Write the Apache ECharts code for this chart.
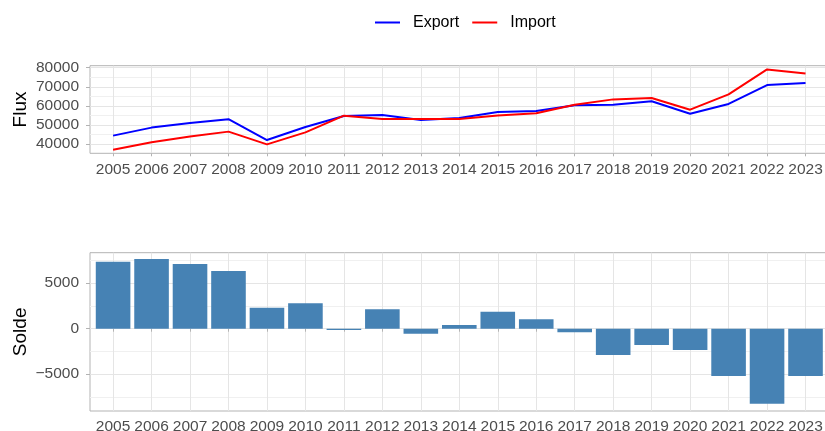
<!DOCTYPE html>
<html><head><meta charset="utf-8">
<script src="https://cdn.jsdelivr.net/npm/echarts@6/dist/echarts.min.js"></script>
<style>html,body{margin:0;padding:0;background:#fff}#c{width:825px;height:431px}</style>
</head><body><div id="c"></div>
<script>
const years = [2005,2006,2007,2008,2009,2010,2011,2012,2013,2014,2015,2016,2017,2018,2019,2020,2021,2022,2023];
const exportVals = [44400,48600,51000,53000,42100,48900,54700,55200,52600,53600,56800,57300,60300,60600,62400,55900,61000,70900,72000];
const importVals = [37000,40900,44000,46500,39800,46100,54850,53100,53100,53100,54900,56100,60600,63400,64100,58000,66000,79100,77000];
const soldeVals = [7350,7650,7100,6350,2300,2800,-150,2150,-550,400,1850,1050,-400,-2900,-1800,-2350,-5200,-8250,-5200];
const fluxTicks = [40000,50000,60000,70000,80000];
const fluxMinor = [45000,55000,65000,75000];
const soldeTicks = [-5000,0,5000];
const soldeMinor = [-7500,-2500,2500,7500];

const FONT = "'Liberation Sans', Arial, sans-serif";
const tickLabelStyle = {color:'#4d4d4d', fontSize:15.5, fontFamily:FONT};
const pair = (vals) => years.map((y,i)=>[y, vals[i]]);

function xAx(gi){
  return {type:'value', gridIndex:gi, min:2004.4, max:2023.6,
    axisLine:{show:false},
    axisTick:{show:true, customValues:years, length:3, lineStyle:{color:'#b3b3b3'}},
    axisLabel:Object.assign({customValues:years, margin:8, formatter:v=>String(v), hideOverlap:false}, tickLabelStyle),
    splitLine:{show:true, lineStyle:{color:'#e5e5e5', width:1}}};
}
function yMajor(gi,min,max,ticks,name){
  return {type:'value', gridIndex:gi, min:min, max:max, position:'left',
    name:name, nameLocation:'middle', nameGap:60, nameMoveOverlap:false,
    nameTextStyle:{color:'#000', fontSize:19, fontFamily:FONT},
    axisLine:{show:false},
    axisTick:{show:true, customValues:ticks, length:4, lineStyle:{color:'#b3b3b3'}},
    axisLabel:Object.assign({customValues:ticks, margin:11, formatter:v=>String(v).replace('-', '\u2212')}, tickLabelStyle),
    splitLine:{show:true, lineStyle:{color:'#e5e5e5', width:1}}};
}
function yMinor(gi,min,max,ticks){
  return {type:'value', gridIndex:gi, min:min, max:max, position:'left',
    axisLine:{show:false},
    axisTick:{show:false, customValues:ticks},
    axisLabel:{show:false, customValues:ticks},
    splitLine:{show:true, lineStyle:{color:'#f0f0f0', width:1}}};
}

const chart = echarts.init(document.getElementById('c'), null, {renderer:'canvas'});
chart.setOption({
  animation:false,
  backgroundColor:'#fff',
  legend:{data:['Export','Import'], left:370, top:9.5, icon:'rect', itemWidth:25, itemHeight:2, itemGap:13,
    textStyle:{color:'#000', fontSize:16, fontFamily:FONT, padding:[0,0,0,8]}},
  grid:[
    {left:90, top:65.7, width:738.6, height:87.6, show:true, borderColor:'#b3b3b3', borderWidth:1, containLabel:false, outerBoundsMode:'none'},
    {left:90, top:252.7, width:738.6, height:158.3, show:true, borderColor:'#b3b3b3', borderWidth:1, containLabel:false, outerBoundsMode:'none'}
  ],
  xAxis:[xAx(0), xAx(1)],
  yAxis:[
    yMajor(0,35140,81050,fluxTicks,'Flux'),
    yMinor(0,35140,81050,fluxMinor),
    yMajor(1,-9047,8352,soldeTicks,'Solde'),
    yMinor(1,-9047,8352,soldeMinor)
  ],
  series:[
    {name:'Export', type:'line', xAxisIndex:0, yAxisIndex:0, data:pair(exportVals), showSymbol:false,
      lineStyle:{color:'#0000ff', width:2}, itemStyle:{color:'#0000ff'}},
    {name:'Import', type:'line', xAxisIndex:0, yAxisIndex:0, data:pair(importVals), showSymbol:false,
      lineStyle:{color:'#ff0000', width:2}, itemStyle:{color:'#ff0000'}},
    {name:'Solde', type:'bar', xAxisIndex:1, yAxisIndex:2, data:pair(soldeVals), barWidth:34.6,
      itemStyle:{color:'#4682b4'}}
  ]
});
</script></body></html>
